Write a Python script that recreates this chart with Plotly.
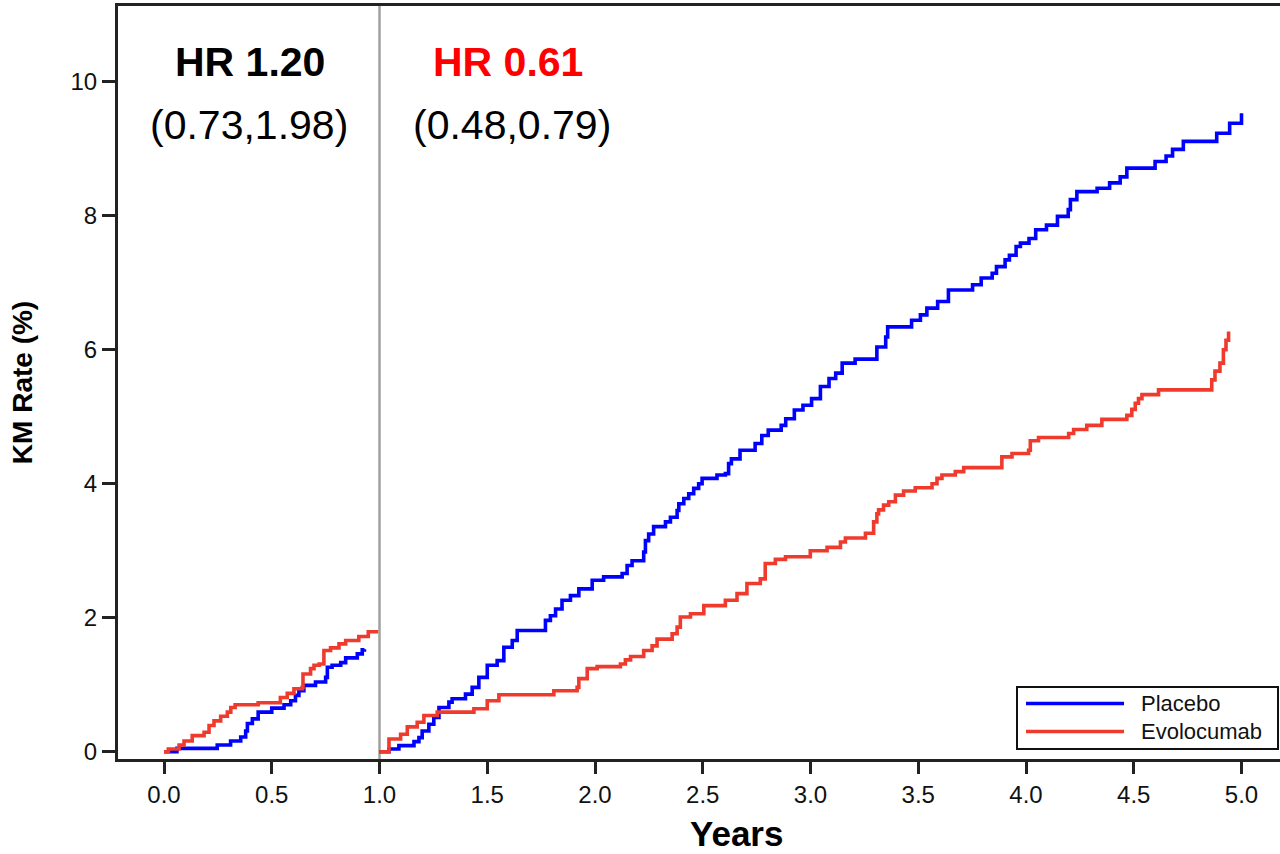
import plotly.graph_objects as go

# ---------------- data ----------------
# Year-1 window (landmark 0-1 year)
placebo_y1_t = [0.0, 0.06, 0.247, 0.309, 0.356, 0.379, 0.387, 0.41, 0.437, 0.50, 0.557, 0.588,
                0.61, 0.626, 0.649, 0.703, 0.75, 0.758, 0.78, 0.82, 0.843, 0.897, 0.92, 0.93]
placebo_y1_v = [0.0, 0.05, 0.10, 0.16, 0.22, 0.31, 0.42, 0.49, 0.59, 0.65, 0.70, 0.76,
                0.84, 0.91, 0.99, 1.04, 1.11, 1.26, 1.29, 1.33, 1.40, 1.46, 1.52, 1.53]

evolo_y1_t = [0.0, 0.02, 0.07, 0.093, 0.131, 0.186, 0.209, 0.232, 0.263, 0.294, 0.31, 0.33,
              0.437, 0.54, 0.572, 0.603, 0.641, 0.645, 0.68, 0.696, 0.72, 0.742, 0.773, 0.812,
              0.843, 0.904, 0.948, 0.994]
evolo_y1_v = [0.0, 0.04, 0.10, 0.16, 0.24, 0.29, 0.39, 0.46, 0.53, 0.59, 0.66, 0.70,
              0.73, 0.81, 0.87, 0.94, 0.96, 1.16, 1.24, 1.29, 1.31, 1.51, 1.55, 1.61,
              1.66, 1.72, 1.79, 1.79]

# After year 1
placebo_y2_t = [1.0, 1.044, 1.09, 1.16, 1.183, 1.198, 1.229, 1.252, 1.276, 1.322, 1.337, 1.399,
                1.43, 1.461, 1.50, 1.546, 1.577, 1.616, 1.639, 1.77, 1.793, 1.817, 1.847, 1.886,
                1.925, 1.987, 2.04, 2.126, 2.149, 2.172, 2.226, 2.234, 2.249, 2.272, 2.327, 2.35,
                2.381, 2.389, 2.412, 2.435, 2.458, 2.481, 2.497, 2.566, 2.605, 2.62, 2.633, 2.673,
                2.743, 2.774, 2.804, 2.864, 2.885, 2.925, 2.965, 3.005, 3.046, 3.086, 3.117, 3.147,
                3.207, 3.308, 3.349, 3.358, 3.469, 3.51, 3.54, 3.59, 3.64, 3.752, 3.792, 3.843,
                3.863, 3.903, 3.923, 3.954, 3.974, 4.014, 4.045, 4.095, 4.146, 4.196, 4.206, 4.236,
                4.33, 4.388, 4.437, 4.468, 4.599, 4.65, 4.68, 4.73, 4.885, 4.945, 5.0]
placebo_y2_v = [0.0, 0.04, 0.09, 0.15, 0.21, 0.31, 0.41, 0.51, 0.66, 0.74, 0.79, 0.86,
                0.96, 1.11, 1.29, 1.36, 1.56, 1.66, 1.81, 1.96, 2.03, 2.13, 2.26, 2.33,
                2.43, 2.56, 2.61, 2.66, 2.78, 2.85, 2.98, 3.15, 3.25, 3.36, 3.43, 3.50,
                3.60, 3.70, 3.78, 3.85, 3.93, 4.00, 4.08, 4.13, 4.15, 4.30, 4.37, 4.50,
                4.60, 4.72, 4.80, 4.87, 4.97, 5.10, 5.17, 5.27, 5.45, 5.57, 5.65, 5.80,
                5.86, 6.04, 6.19, 6.34, 6.44, 6.52, 6.62, 6.72, 6.89, 6.97, 7.07, 7.14,
                7.24, 7.34, 7.41, 7.54, 7.59, 7.66, 7.79, 7.86, 7.99, 8.09, 8.24, 8.36,
                8.41, 8.49, 8.58, 8.71, 8.81, 8.89, 8.99, 9.11, 9.23, 9.38, 9.53]

evolo_y2_t = [1.0, 1.044, 1.098, 1.129, 1.175, 1.206, 1.268, 1.438, 1.50, 1.554, 1.809, 1.917,
              1.925, 1.964, 2.01, 2.118, 2.141, 2.165, 2.226, 2.265, 2.288, 2.358, 2.381, 2.396,
              2.443, 2.505, 2.605, 2.659, 2.705, 2.767, 2.79, 2.837, 2.884, 2.999, 3.077, 3.139,
              3.162, 3.255, 3.293, 3.308, 3.316, 3.339, 3.363, 3.394, 3.432, 3.486, 3.564, 3.587,
              3.61, 3.672, 3.711, 3.888, 3.935, 4.012, 4.02, 4.058, 4.198, 4.221, 4.282, 4.352,
              4.468, 4.491, 4.507, 4.522, 4.538, 4.615, 4.862, 4.877, 4.9, 4.916, 4.928, 4.94]
evolo_y2_v = [0.0, 0.19, 0.26, 0.37, 0.44, 0.54, 0.59, 0.64, 0.76, 0.85, 0.91, 0.96,
              1.09, 1.24, 1.27, 1.31, 1.37, 1.42, 1.51, 1.58, 1.68, 1.76, 1.86, 2.01,
              2.06, 2.18, 2.26, 2.36, 2.51, 2.58, 2.81, 2.87, 2.91, 3.00, 3.05, 3.13,
              3.19, 3.26, 3.43, 3.55, 3.61, 3.68, 3.73, 3.83, 3.89, 3.94, 4.00, 4.08,
              4.13, 4.18, 4.24, 4.40, 4.45, 4.50, 4.64, 4.69, 4.75, 4.81, 4.87, 4.96,
              5.02, 5.11, 5.20, 5.27, 5.33, 5.40, 5.55, 5.68, 5.80, 6.00, 6.14, 6.27]

series_names = ["Placebo", "Evolocumab"]
x_tick_vals = [0.0, 0.5, 1.0, 1.5, 2.0, 2.5, 3.0, 3.5, 4.0, 4.5, 5.0]
x_tick_text = ["0.0", "0.5", "1.0", "1.5", "2.0", "2.5", "3.0", "3.5", "4.0", "4.5", "5.0"]
y_tick_vals = [0, 2, 4, 6, 8, 10]
hr_labels = ["HR 1.20", "HR 0.61"]
ci_labels = ["(0.73,1.98)", "(0.48,0.79)"]

# ---------------- styling ----------------
BLUE = "#0000FF"
RED = "#EE3B2E"
FONT = "Liberation Sans, Arial, sans-serif"
AX = "#222222"

W, H = 1280, 854
ML, MR, MT, MB = 118, 0, 6, 95
PW, PH = W - ML - MR, H - MT - MB


def px_x(p):
    return (p - ML) / PW


def px_y(p):
    return (H - MB - p) / PH


fig = go.Figure()
for t, v, col, nm in [
    (placebo_y1_t, placebo_y1_v, BLUE, series_names[0]),
    (evolo_y1_t, evolo_y1_v, RED, series_names[1]),
    (placebo_y2_t, placebo_y2_v, BLUE, series_names[0]),
    (evolo_y2_t, evolo_y2_v, RED, series_names[1]),
]:
    fig.add_trace(go.Scatter(x=t, y=v, mode="lines", name=nm,
                             line=dict(color=col, width=3.6, shape="hv"),
                             showlegend=False, hoverinfo="skip"))

# landmark line at 1 year
fig.add_shape(type="line", xref="x", yref="paper", x0=1.0, x1=1.0, y0=0, y1=1,
              line=dict(color="#A0A0A0", width=2.5), layer="below")

# HR annotations
fig.add_annotation(x=0.401, y=10.29, xref="x", yref="y", text="<b>" + hr_labels[0] + "</b>",
                   showarrow=False, font=dict(family=FONT, size=41, color="#000000"))
fig.add_annotation(x=0.396, y=9.36, xref="x", yref="y", text=ci_labels[0],
                   showarrow=False, font=dict(family=FONT, size=41, color="#000000"))
fig.add_annotation(x=1.594, y=10.29, xref="x", yref="y", text="<b>" + hr_labels[1] + "</b>",
                   showarrow=False, font=dict(family=FONT, size=41, color="#FF0000"))
fig.add_annotation(x=1.613, y=9.36, xref="x", yref="y", text=ci_labels[1],
                   showarrow=False, font=dict(family=FONT, size=41, color="#000000"))

# x axis title (offset to the right as in the reference)
fig.add_annotation(x=px_x(737), y=px_y(834), xref="paper", yref="paper", text="<b>Years</b>",
                   xanchor="center", yanchor="middle",
                   showarrow=False, font=dict(family=FONT, size=35, color="#000000"))

# legend box drawn to match the reference
fig.add_shape(type="rect", xref="paper", yref="paper",
              x0=px_x(1017), x1=px_x(1278), y0=px_y(749), y1=px_y(687),
              line=dict(color="#111111", width=2), fillcolor="white")
for name, col, yy in [(series_names[0], BLUE, 703.5), (series_names[1], RED, 731.5)]:
    fig.add_shape(type="line", xref="paper", yref="paper",
                  x0=px_x(1026), x1=px_x(1124), y0=px_y(yy), y1=px_y(yy),
                  line=dict(color=col, width=3.6))
    fig.add_annotation(x=px_x(1139), y=px_y(yy), xref="paper", yref="paper", text=name,
                       xanchor="left", yanchor="middle", showarrow=False,
                       font=dict(family=FONT, size=22, color="#111111"))

fig.update_layout(
    width=W, height=H,
    margin=dict(l=ML, r=MR, t=MT, b=MB, pad=0),
    paper_bgcolor="white", plot_bgcolor="white",
    showlegend=False,
    font=dict(family=FONT, color="#111111"),
    xaxis=dict(range=[(118 - 164) / 215.5, (1280 - 164) / 215.5],
               tickmode="array", tickvals=x_tick_vals, ticktext=x_tick_text,
               ticks="outside", ticklen=12, tickwidth=2.5, tickcolor=AX,
               showline=True, linewidth=3, linecolor=AX, mirror=True,
               showgrid=False, zeroline=False,
               tickfont=dict(family=FONT, size=24, color="#111111")),
    yaxis=dict(range=[(751.7 - 759) / 67.0, (751.7 - 6) / 67.0],
               tickmode="array", tickvals=y_tick_vals,
               ticks="outside", ticklen=13, tickwidth=2.5, tickcolor=AX,
               showline=True, linewidth=3, linecolor=AX, mirror=False,
               showgrid=False, zeroline=False,
               tickfont=dict(family=FONT, size=24, color="#111111"),
               title=dict(text="<b>KM Rate (%)</b>", standoff=30,
                          font=dict(family=FONT, size=28, color="#000000"))),
)

fig.write_html("out.html")
